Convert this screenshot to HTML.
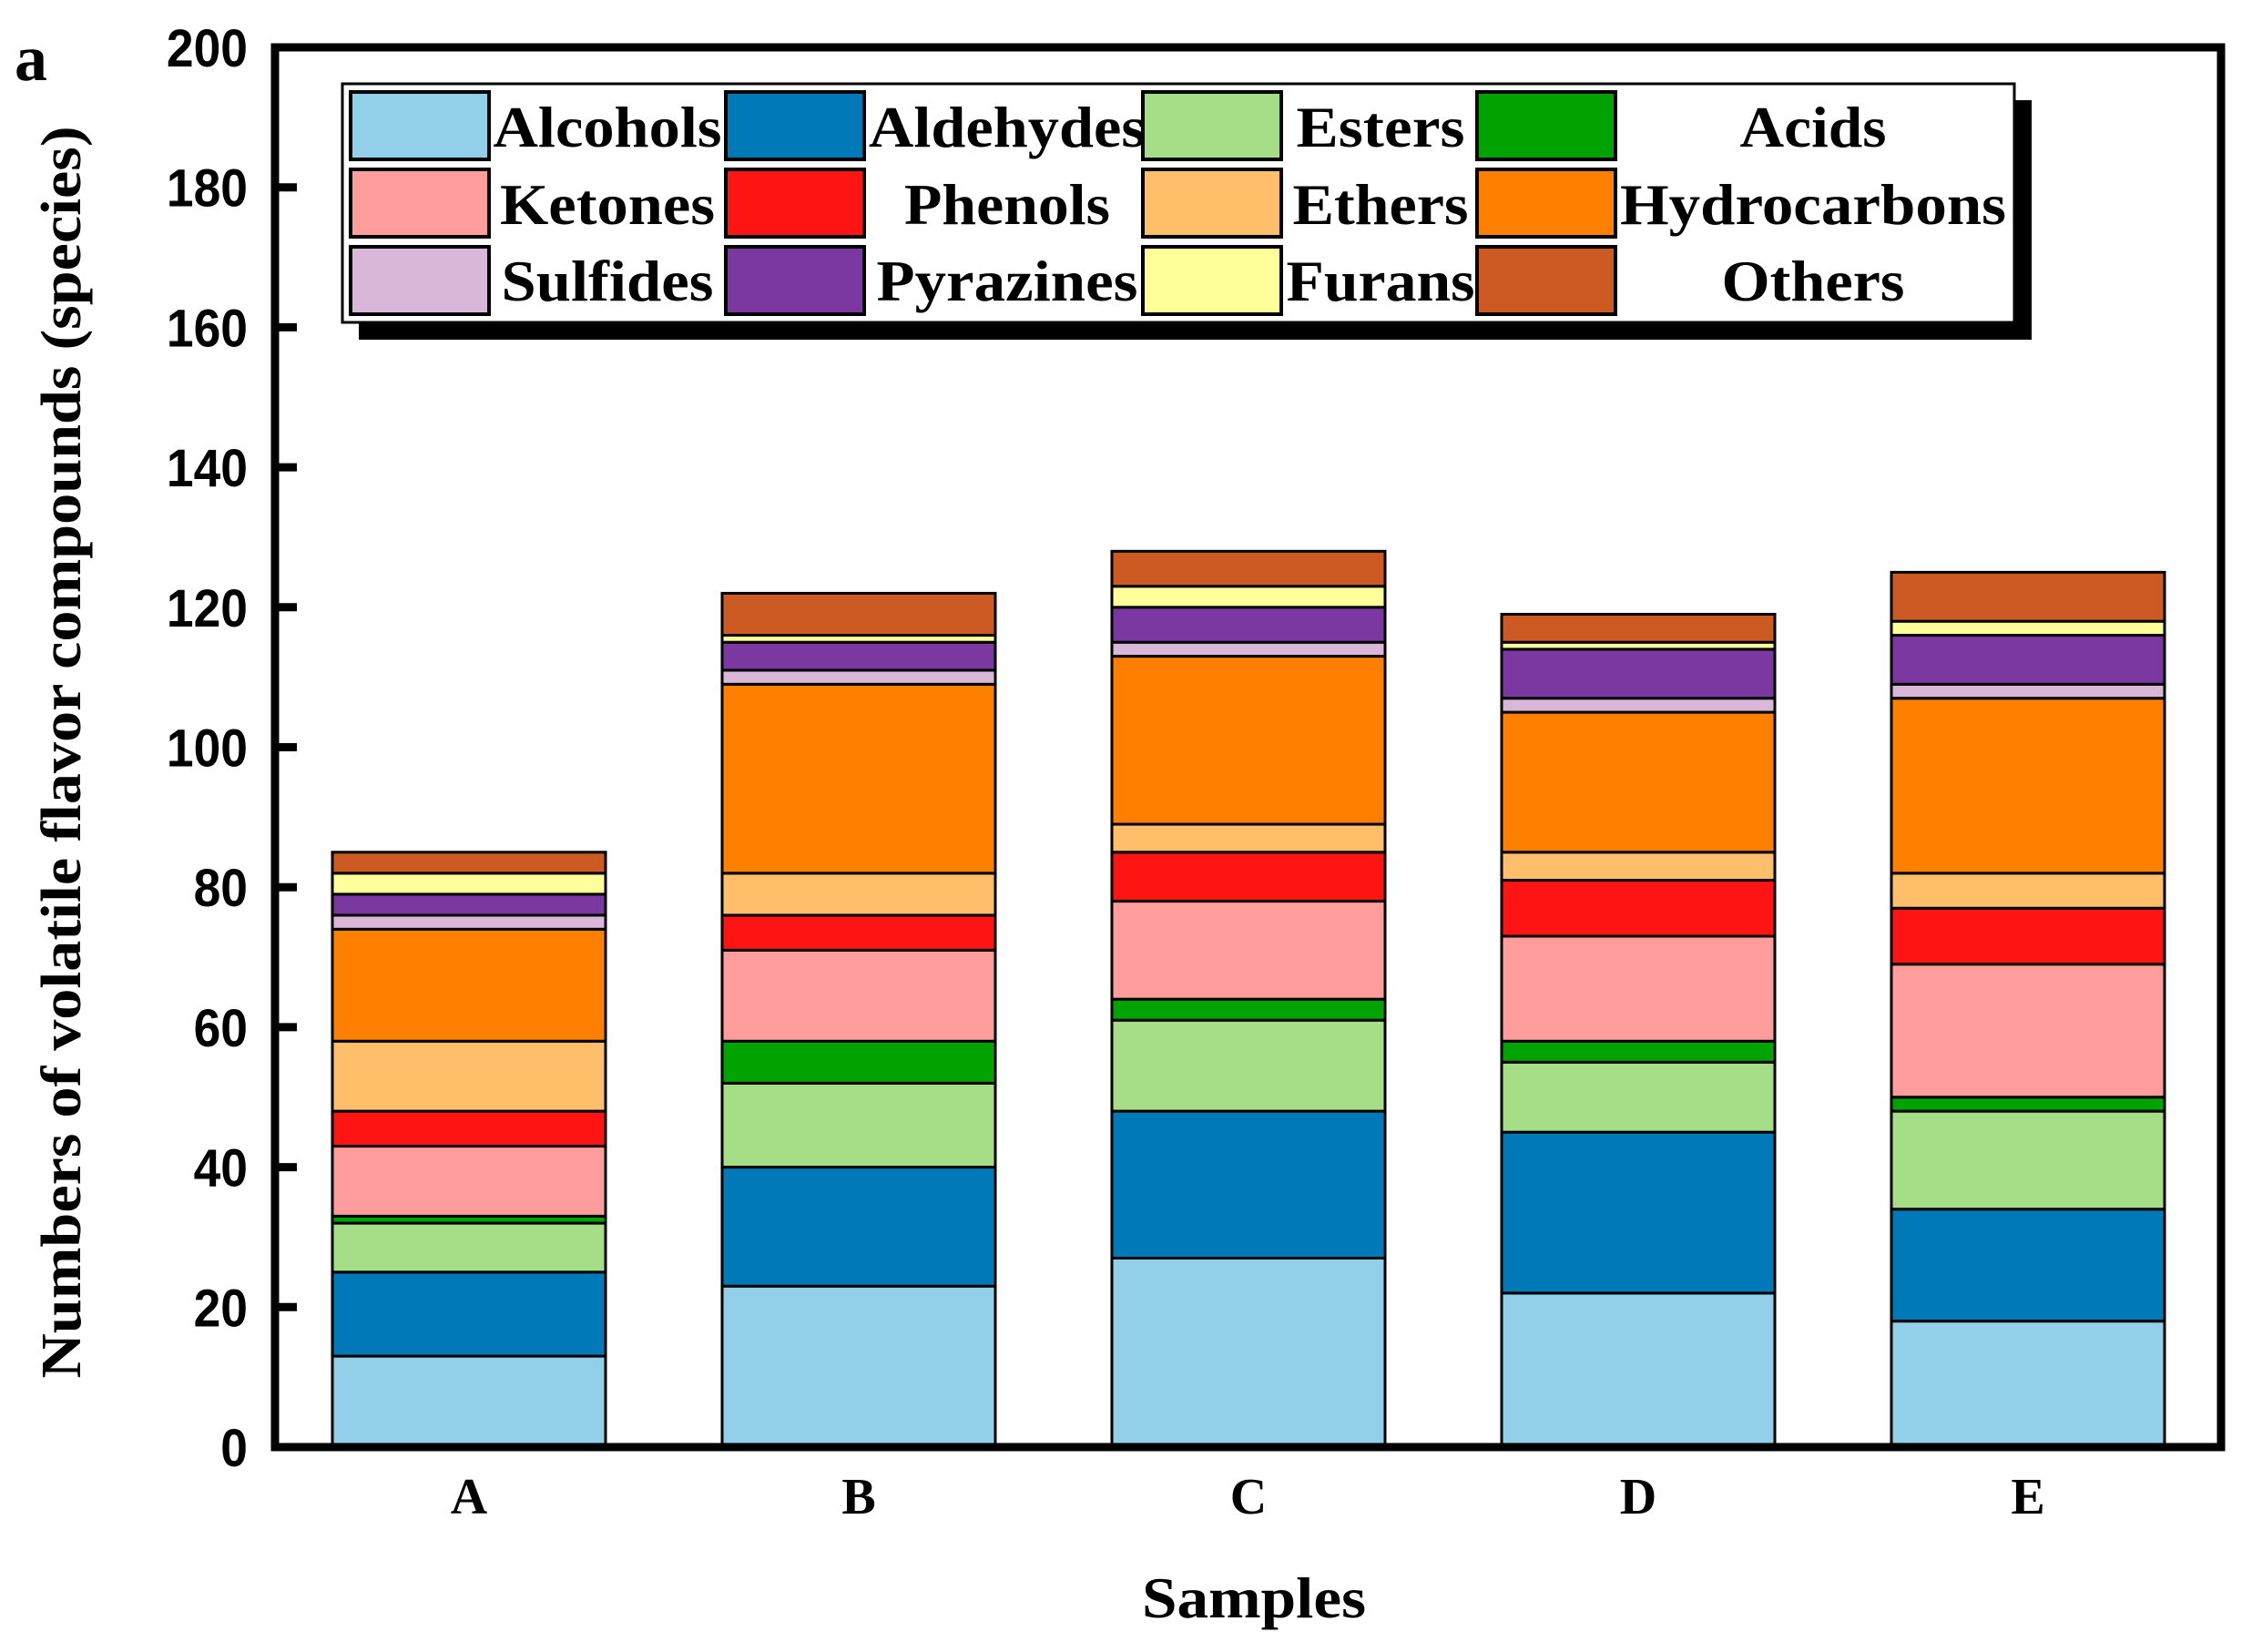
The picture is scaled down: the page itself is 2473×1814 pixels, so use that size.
<!DOCTYPE html>
<html><head><meta charset="utf-8"><style>html,body{margin:0;padding:0;background:#fff}svg{display:block}</style></head>
<body>
<svg id="chart" width="2473" height="1814" viewBox="0 0 2473 1814" xmlns="http://www.w3.org/2000/svg">
<text x="16" y="88" font-family="Liberation Serif, serif" font-weight="bold" font-size="72">a</text>
<g id="bars"></g>
<g id="axes"></g>
<g id="legend"></g>
<text transform="translate(88,826) rotate(-90)" text-anchor="middle" font-family="Liberation Serif, serif" font-weight="bold" font-size="62" textLength="1375" lengthAdjust="spacingAndGlyphs">Numbers of volatile flavor compounds (species)</text>
<text x="1377" y="1776" text-anchor="middle" font-family="Liberation Serif, serif" font-weight="bold" font-size="64" textLength="246" lengthAdjust="spacingAndGlyphs">Samples</text>
</svg>
<script>
const categories = ["A","B","C","D","E"];
const seriesNames = ["Alcohols","Aldehydes","Esters","Acids","Ketones","Phenols","Ethers","Hydrocarbons","Sulfides","Pyrazines","Furans","Others"];
const alcohols = [13,23,27,22,18];
const aldehydes = [12,17,21,23,16];
const esters = [7,12,13,10,14];
const acids = [1,6,3,3,2];
const ketones = [10,13,14,15,19];
const phenols = [5,5,7,8,8];
const ethers = [10,6,4,4,5];
const hydrocarbons = [16,27,24,20,25];
const sulfides = [2,2,2,2,2];
const pyrazines = [3,4,5,7,7];
const furans = [3,1,3,1,2];
const others = [3,6,5,4,7];
const yTicks = [0,20,40,60,80,100,120,140,160,180,200];

const series = [alcohols,aldehydes,esters,acids,ketones,phenols,ethers,hydrocarbons,sulfides,pyrazines,furans,others];
const colors = ["#92CFE8","#0079B8","#A6DE88","#00A300","#FF9C9C","#FF1414","#FFBE6A","#FF7F00","#D9B7D8","#7A38A0","#FFFF99","#CD5A22"];
const NS = "http://www.w3.org/2000/svg";
const X0 = 302, X1 = 2439, Y0 = 1589, Y1 = 52;
const yScale = v => Y0 - (v / 200) * (Y0 - Y1);
const xCenter = i => 515 + i * 428;
const barW = 300;
function mk(tag, attrs, parent) {
  const e = document.createElementNS(NS, tag);
  for (const k in attrs) e.setAttribute(k, attrs[k]);
  parent.appendChild(e);
  return e;
}
const bars = document.getElementById('bars');
categories.forEach((c, i) => {
  let cum = 0;
  series.forEach((s, j) => {
    const v = s[i];
    const y1 = yScale(cum), y2 = yScale(cum + v);
    const r = mk('rect', {x: xCenter(i) - barW/2, y: y2, width: barW, height: y1 - y2, fill: colors[j], stroke: '#000', 'stroke-width': 3}, bars);
    
    
    cum += v;
  });
});
const axes = document.getElementById('axes');
const frame = mk('rect', {x: X0, y: Y1, width: X1 - X0, height: Y0 - Y1, fill: 'none', stroke: '#000', 'stroke-width': 9}, axes);


yTicks.forEach(t => {
  const y = yScale(t);
  const tk = mk('line', {x1: X0, x2: X0 + 24, y1: y, y2: y, stroke: '#000', 'stroke-width': 9}, axes);
  
  
  const s = String(t);
  const lb = mk('text', {x: 272, y: y + 21, 'text-anchor': 'end', 'font-family': 'Liberation Sans, sans-serif', 'font-weight': 'bold', 'font-size': 58, textLength: s.length * 29.7, lengthAdjust: 'spacingAndGlyphs'}, axes);
  lb.textContent = s;
  
  
});
categories.forEach((c, i) => {
  const lb = mk('text', {x: xCenter(i), y: 1662, 'text-anchor': 'middle', 'font-family': 'Liberation Serif, serif', 'font-weight': 'bold', 'font-size': 56}, axes);
  lb.textContent = c;
  
  
});
const legend = document.getElementById('legend');
const sh = mk('rect', {x: 394, y: 110, width: 1837, height: 263, fill: '#000'}, legend);


const lbx = mk('rect', {x: 376, y: 92, width: 1836, height: 262, fill: '#fff', stroke: '#000', 'stroke-width': 3}, legend);


const swX = [385, 797, 1255, 1622];
const txC = [667, 1106, 1516, 1991];
const rowY = [101, 186, 271];
const baseY = [161, 246, 330];
const tw = [[251,304,185,161],[236,226,193,424],[233,287,207,201]];
seriesNames.forEach((n, k) => {
  const col = k % 4, row = Math.floor(k / 4);
  const sw = mk('rect', {x: swX[col], y: rowY[row], width: 152, height: 74, fill: colors[k], stroke: '#000', 'stroke-width': 4}, legend);
  
  
  const t = mk('text', {x: txC[col], y: baseY[row], 'text-anchor': 'middle', 'font-family': 'Liberation Serif, serif', 'font-weight': 'bold', 'font-size': 64, textLength: tw[row][col], lengthAdjust: 'spacingAndGlyphs'}, legend);
  t.textContent = n;
  
  
});
</script>
</body></html>
